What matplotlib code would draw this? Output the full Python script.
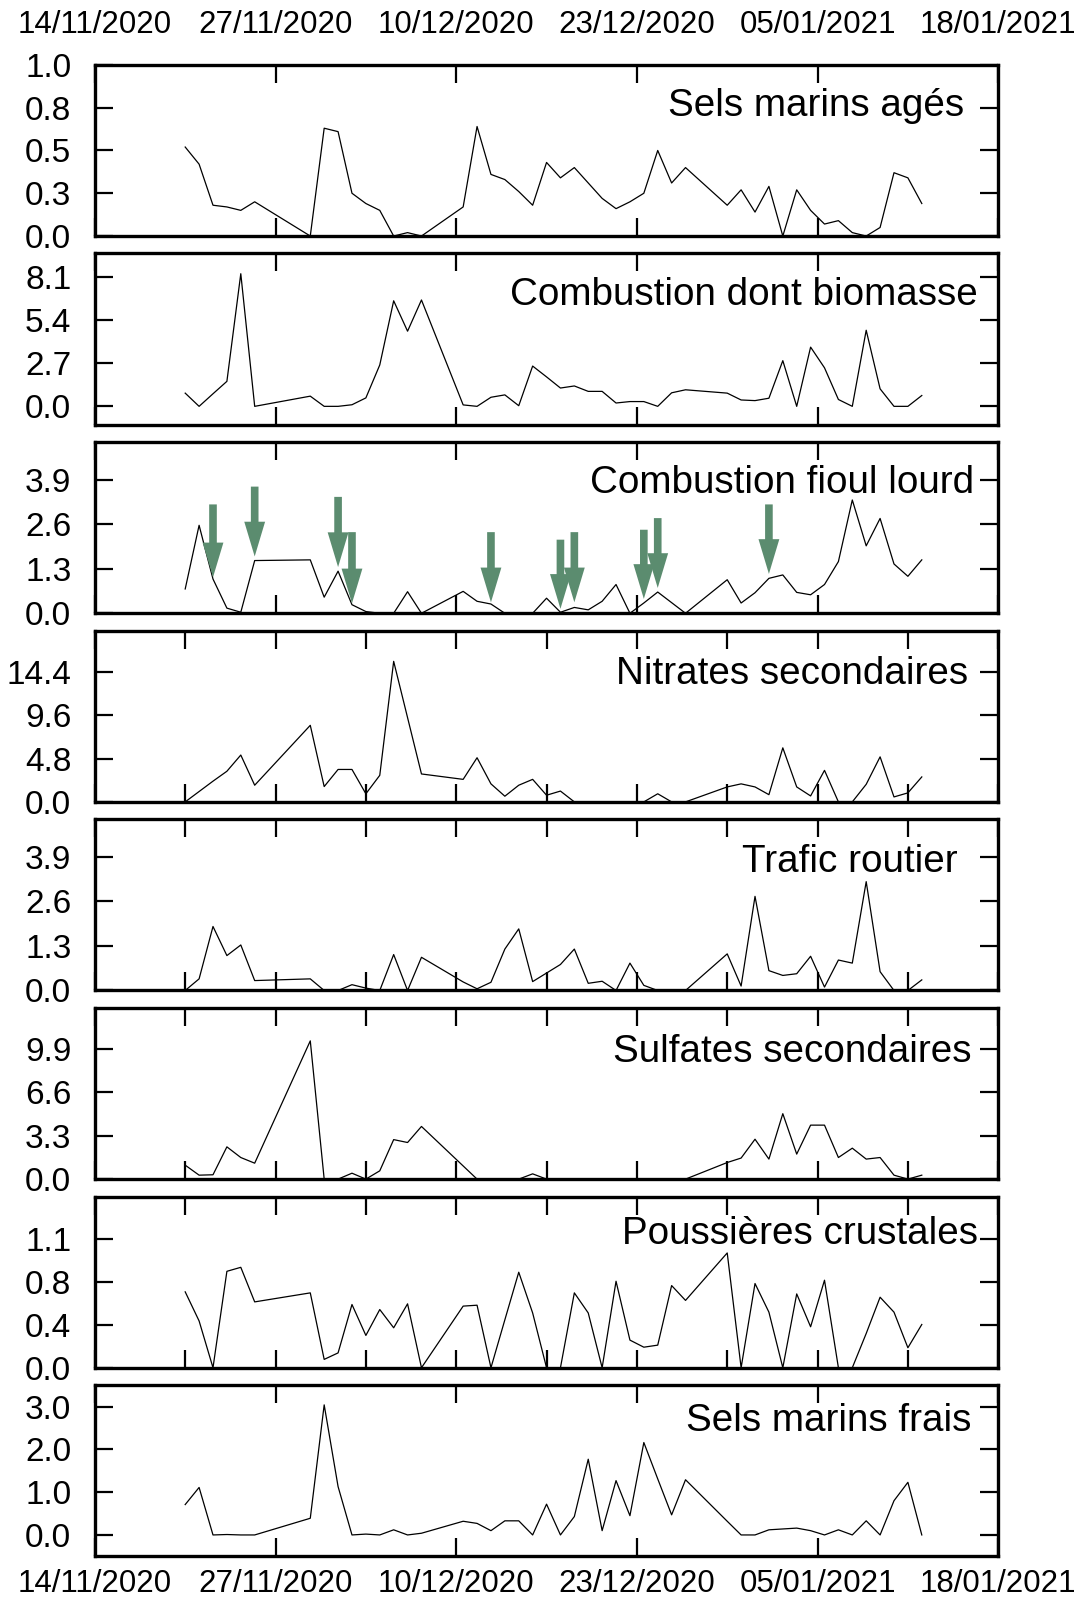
# Stacked time series of PM source contributions (Nov 2020 - Jan 2021).
import datetime as dt
import matplotlib
matplotlib.use('Agg')
import matplotlib.pyplot as plt
import matplotlib.dates as mdates

plt.rcParams['font.family'] = ['Liberation Sans', 'DejaVu Sans']

# DATA.

# Sampling days, counted from 14/11/2020 (samples plotted at noon).
days = [6, 7, 8, 9, 10, 11,
        15, 16, 17, 18, 19, 20, 21, 22, 23,
        26, 27, 28, 29, 30, 31, 32, 33, 34, 35, 36, 37, 38, 39, 40, 41, 42,
        45, 46, 47, 48, 49, 50, 51, 52, 53, 54, 55, 56, 57, 58, 59]

sels_ages = [0.52, 0.42, 0.18, 0.17, 0.15, 0.20,
             0.0, 0.63, 0.61, 0.25, 0.19, 0.15, 0.0, 0.02, 0.0,
             0.17, 0.64, 0.36, 0.33, 0.26, 0.18, 0.43, 0.34, 0.40, 0.31, 0.22, 0.16, 0.20, 0.25, 0.50, 0.31, 0.40,
             0.18, 0.27, 0.14, 0.29, 0.0, 0.27, 0.15, 0.07, 0.09, 0.02, 0.0, 0.05, 0.37, 0.34, 0.19]

biomasse = [0.83, 0.0, 0.79, 1.57, 8.33, 0.0,
            0.64, 0.0, 0.0, 0.10, 0.53, 2.60, 6.63, 4.72, 6.68,
            0.09, 0.0, 0.57, 0.72, 0.04, 2.53, 1.85, 1.15, 1.28, 0.94, 0.94, 0.21, 0.30, 0.30, 0.0, 0.85, 1.04,
            0.83, 0.40, 0.36, 0.51, 2.87, 0.0, 3.72, 2.42, 0.43, 0.0, 4.78, 1.10, 0.0, 0.0, 0.68]

fioul = [0.71, 2.57, 1.00, 0.15, 0.03, 1.54,
         1.56, 0.47, 1.23, 0.25, 0.05, 0.0, 0.0, 0.63, 0.0,
         0.64, 0.35, 0.27, 0.0, 0.0, 0.0, 0.44, 0.03, 0.17, 0.10, 0.35, 0.84, 0.0, 0.30, 0.62, 0.31, 0.0,
         0.98, 0.30, 0.60, 1.02, 1.12, 0.61, 0.54, 0.84, 1.51, 3.31, 1.97, 2.77, 1.44, 1.08, 1.56]

nitrates = [0.0, 1.15, 2.30, 3.40, 5.20, 1.85,
            8.50, 1.70, 3.60, 3.60, 0.90, 2.95, 15.6, 9.35, 3.10,
            2.50, 4.90, 2.00, 0.63, 1.85, 2.50, 0.74, 1.20, 0.0, 0.0, 0.0, 0.0, 0.0, 0.0, 0.90, 0.0, 0.0,
            1.66, 2.00, 1.66, 0.80, 6.00, 1.66, 0.66, 3.50, 0.0, 0.0, 1.95, 5.00, 0.55, 1.00, 2.77]

trafic = [0.0, 0.34, 1.87, 1.02, 1.33, 0.29,
          0.34, 0.0, 0.0, 0.17, 0.07, 0.0, 1.05, 0.0, 0.97,
          0.25, 0.05, 0.24, 1.21, 1.80, 0.26, 0.51, 0.76, 1.21, 0.21, 0.27, 0.0, 0.80, 0.15, 0.0, 0.0, 0.0,
          1.07, 0.13, 2.75, 0.58, 0.44, 0.49, 1.00, 0.10, 0.89, 0.80, 3.18, 0.55, 0.0, 0.0, 0.31]

sulfates = [1.06, 0.30, 0.33, 2.45, 1.64, 1.21,
            10.5, 0.0, 0.0, 0.45, 0.0, 0.63, 3.00, 2.78, 4.00,
            1.00, 0.0, 0.0, 0.0, 0.0, 0.40, 0.0, 0.0, 0.0, 0.0, 0.0, 0.0, 0.0, 0.0, 0.0, 0.0, 0.0,
            1.26, 1.60, 3.03, 1.52, 4.97, 1.90, 4.10, 4.10, 1.64, 2.35, 1.52, 1.64, 0.30, 0.0, 0.30]

poussieres = [0.665, 0.41, 0.0, 0.845, 0.88, 0.577,
              0.656, 0.073, 0.13, 0.554, 0.283, 0.51, 0.35, 0.56, 0.0,
              0.54, 0.548, 0.0, 0.42, 0.837, 0.48, 0.0, 0.0, 0.656, 0.48, 0.0, 0.758, 0.242, 0.18, 0.198, 0.72, 0.59,
              1.006, 0.0, 0.738, 0.487, 0.0, 0.647, 0.359, 0.767, 0.0, 0.0, 0.30, 0.618, 0.487, 0.175, 0.379]

sels_frais = [0.71, 1.11, 0.0, 0.01, 0.0, 0.0,
              0.39, 3.04, 1.13, 0.0, 0.02, 0.0, 0.12, 0.0, 0.04,
              0.32, 0.27, 0.10, 0.33, 0.33, 0.0, 0.72, 0.0, 0.43, 1.77, 0.10, 1.27, 0.45, 2.16, 1.31, 0.47, 1.29,
              0.32, 0.0, 0.0, 0.12, 0.14, 0.16, 0.10, 0.0, 0.12, 0.0, 0.33, 0.0, 0.80, 1.23, 0.0]

names = ['Sels marins agés', 'Combustion dont biomasse', 'Combustion fioul lourd',
         'Nitrates secondaires', 'Trafic routier', 'Sulfates secondaires',
         'Poussières crustales', 'Sels marins frais']
series = [sels_ages, biomasse, fioul, nitrates, trafic, sulfates, poussieres, sels_frais]

# Y tick values and their printed labels per panel.
yticks = [[0, 0.25, 0.5, 0.75, 1.0], [0, 2.7, 5.4, 8.1], [0, 1.3, 2.6, 3.9], [0, 4.8, 9.6, 14.4],
          [0, 1.3, 2.6, 3.9], [0, 3.3, 6.6, 9.9], [0, 0.375, 0.75, 1.125], [0, 1, 2, 3]]
yticklabels = [['0.0', '0.3', '0.5', '0.8', '1.0'], ['0.0', '2.7', '5.4', '8.1'],
               ['0.0', '1.3', '2.6', '3.9'], ['0.0', '4.8', '9.6', '14.4'],
               ['0.0', '1.3', '2.6', '3.9'], ['0.0', '3.3', '6.6', '9.9'],
               ['0.0', '0.4', '0.8', '1.1'], ['0.0', '1.0', '2.0', '3.0']]

# Marked heavy fuel oil episodes (days from 14/11/2020, arrow top and tip values).
arrow_days = [8, 11, 17, 18, 28, 33, 34, 39, 40, 48]
arrow_top = [3.18, 3.70, 3.40, 2.37, 2.37, 2.15, 2.37, 2.44, 2.78, 3.18]
arrow_tip = [1.05, 1.66, 1.35, 0.29, 0.32, 0.13, 0.32, 0.42, 0.74, 1.15]

# LAYOUT / STYLE.
ylims = [(0, 1.0), (-1.15, 9.6), (0, 5.0), (0, 19.0), (0, 5.0), (0, 13.0), (0, 1.5), (-0.5, 3.5)]
label_x = [0.962, 0.977, 0.973, 0.967, 0.955, 0.970, 0.978, 0.970]
label_y = [0.76, 0.76, 0.76, 0.75, 0.75, 0.74, 0.78, 0.79]
minor_panels = [3, 4, 5, 6]
arrow_color = '#5b8c6f'

start = dt.datetime(2020, 11, 14)
end = dt.datetime(2021, 1, 18)
dates = [start + dt.timedelta(days=d, hours=12) for d in days]
major = [start + dt.timedelta(days=13 * k) for k in range(6)]
minor = [start + dt.timedelta(days=6.5 + 13 * k) for k in range(5)]

fig, axes = plt.subplots(8, 1, figsize=(10.78, 16.02), dpi=100)
fig.subplots_adjust(left=0.088, right=0.926, top=0.9595, bottom=0.0285, hspace=0.102)

for i, ax in enumerate(axes):
    ax.plot(dates, series[i], color='black', linewidth=0.9, zorder=3)
    ax.set_xlim(start, end)
    ax.set_ylim(ylims[i])
    ax.set_xticks(major)
    ax.xaxis.set_major_formatter(mdates.DateFormatter('%d/%m/%Y'))
    if i in minor_panels:
        ax.set_xticks(minor, minor=True)
    else:
        ax.set_xticks([], minor=True)
    ax.set_yticks(yticks[i])
    ax.set_yticklabels(yticklabels[i])
    ax.tick_params(axis='both', which='both', direction='in', length=13, width=1.6,
                   top=True, right=True, labelbottom=False, labeltop=False)
    ax.tick_params(axis='x', labelsize=22.5)
    ax.tick_params(axis='y', labelsize=24, pad=17)
    for s in ax.spines.values():
        s.set_linewidth(2.4)
    ax.text(label_x[i], label_y[i], names[i], transform=ax.transAxes,
            ha='right', va='center', fontsize=27.8)

# Date labels on top of the first panel and under the last one.
axes[0].tick_params(axis='x', labeltop=True, pad=18)
axes[-1].tick_params(axis='x', labelbottom=True, pad=9)

# Arrows on the heavy fuel oil panel.
for d, top, tip in zip(arrow_days, arrow_top, arrow_tip):
    x = start + dt.timedelta(days=d, hours=12)
    axes[2].annotate('', xy=(x, tip), xytext=(x, top),
                     arrowprops=dict(arrowstyle='simple,head_width=1.5,head_length=2.5,tail_width=0.55',
                                     mutation_scale=10, facecolor=arrow_color,
                                     edgecolor='none', shrinkA=0, shrinkB=0),
                     zorder=4)

fig.savefig('out.png', dpi=100)
